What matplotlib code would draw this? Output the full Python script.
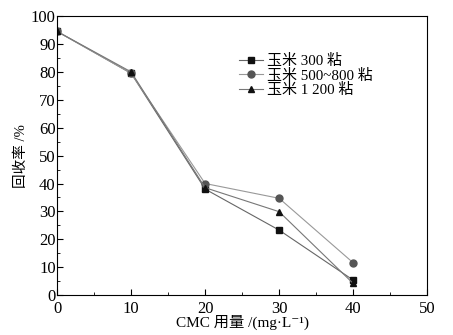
import matplotlib.pyplot as plt

plt.rcParams['font.family'] = ['Liberation Serif', 'Noto Sans CJK SC', 'DejaVu Serif']

# data
dosage = [0, 10, 20, 30, 40]
corn_300 = [94.5, 79.5, 38.0, 23.3, 5.4]
corn_500_800 = [94.5, 79.5, 40.0, 34.7, 11.6]
corn_1200 = [94.5, 80.0, 38.5, 29.9, 4.2]

fig = plt.figure(figsize=(4.53, 3.35), dpi=100)
ax = fig.add_axes([0.126, 0.119, 0.817, 0.833])

ax.plot(dosage, corn_300, color='#666666', lw=0.8, marker='s', ms=4.5,
        mfc='#111111', mec='#111111', label='玉米 300 粘')
ax.plot(dosage, corn_500_800, color='#999999', lw=0.8, marker='o', ms=5,
        mfc='#555555', mec='#555555', label='玉米 500~800 粘')
ax.plot(dosage, corn_1200, color='#777777', lw=0.8, marker='^', ms=5,
        mfc='#111111', mec='#111111', label='玉米 1 200 粘')

ax.set_xlim(0, 50)
ax.set_ylim(0, 100)
ax.set_xticks(range(0, 51, 10))
ax.set_yticks(range(0, 101, 10))
ax.set_xticks(range(5, 50, 10), minor=True)
ax.set_yticks(range(5, 100, 10), minor=True)
ax.tick_params(direction='in', labelsize=12, top=False, right=False, length=4, pad=1)
ax.tick_params(axis='x', pad=4)
ax.tick_params(which='minor', direction='in', length=2, top=False, right=False)

ax.set_xlabel('CMC 用量 /(mg·L⁻¹)', fontsize=11, labelpad=-1)
ax.set_ylabel('回收率 /%', fontsize=10.5, labelpad=2)

ax.legend(loc='upper left', bbox_to_anchor=(0.47, 0.89), frameon=False,
          fontsize=10.8, handlelength=1.6, handletextpad=0.3, labelspacing=0.02,
          borderpad=0)

fig.savefig('out.png', dpi=100)
